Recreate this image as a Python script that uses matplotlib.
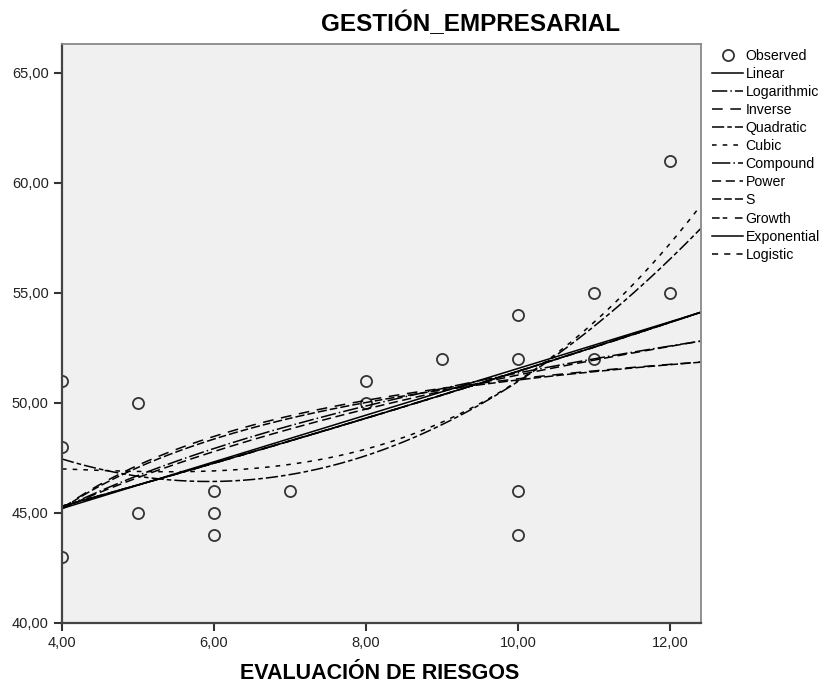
import numpy as np
import matplotlib
matplotlib.use('Agg')
from matplotlib import pyplot as plt
from matplotlib.ticker import FuncFormatter

plt.rcParams['font.family'] = ['Liberation Sans', 'DejaVu Sans']

# observed points (EVALUACION DE RIESGOS, GESTION_EMPRESARIAL)
obs_x = [4, 4, 4, 5, 5, 6, 6, 6, 7, 8, 8, 9, 10, 10, 10, 10, 11, 11, 12, 12]
obs_y = [51, 48, 43, 50, 45, 46, 45, 44, 46, 51, 50, 52, 54, 52, 46, 44, 55, 52, 61, 55]

# fitted model coefficients
lin = [40.96, 1.06]                    # b0 + b1*x
logar = [35.89, 6.717]                 # b0 + b1*ln(x)
inv = [55.02, -39.27]                  # b0 + b1/x
quad = [56.074, -3.2528, 0.2742]       # b0 + b1*x + b2*x^2
cub = [46.316, 0.8284, -0.25, 0.021397]
comp = [41.63, 1.02137]                # b0 * b1^x
powr = [37.36, 0.1374]                 # b0 * x^b1
s_mod = [4.0136, -0.8102]              # exp(b0 + b1/x)
grow = [3.7287, 0.02114]               # exp(b0 + b1*x)
expo = [41.63, 0.02114]                # b0 * exp(b1*x)
logi = [0.02402, 0.97908]              # 1/(b0 * b1^x)

xx = np.linspace(4, 12.4, 300)
curvas = [
    ('Linear', lin[0] + lin[1]*xx, '-'),
    ('Logarithmic', logar[0] + logar[1]*np.log(xx), (0, (10, 2, 1, 2))),
    ('Inverse', inv[0] + inv[1]/xx, (0, (7, 5))),
    ('Quadratic', quad[0] + quad[1]*xx + quad[2]*xx**2, (0, (8, 2, 3, 2))),
    ('Cubic', cub[0] + cub[1]*xx + cub[2]*xx**2 + cub[3]*xx**3, (0, (3, 4))),
    ('Compound', comp[0]*comp[1]**xx, (0, (12, 2, 1, 2))),
    ('Power', powr[0]*xx**powr[1], (0, (6, 3))),
    ('S', np.exp(s_mod[0] + s_mod[1]/xx), (0, (6, 2, 5, 2))),
    ('Growth', np.exp(grow[0] + grow[1]*xx), (0, (5, 2, 3, 5))),
    ('Exponential', expo[0]*np.exp(expo[1]*xx), '-'),
    ('Logistic', 1/(logi[0]*logi[1]**xx), (0, (4, 4))),
]

fig = plt.figure(figsize=(8.3, 6.84), dpi=100)
ax = fig.add_axes([0.0747, 0.0892, 0.77, 0.8465])
ax.set_facecolor('#f0f0f0')

ax.plot(obs_x, obs_y, linestyle='', marker='o', markersize=8, markerfacecolor='none',
        markeredgecolor='#333333', markeredgewidth=1.3, label='Observed')
for nombre, yy, estilo in curvas:
    ax.plot(xx, yy, color='black', linewidth=1.1, linestyle=estilo, label=nombre)

ax.set_xlim(4, 12.41)
ax.set_ylim(40, 66.3)
ax.set_xticks([4, 6, 8, 10, 12])
ax.set_yticks([40, 45, 50, 55, 60, 65])
fmt = FuncFormatter(lambda v, p: ('%.2f' % v).replace('.', ','))
ax.xaxis.set_major_formatter(fmt)
ax.yaxis.set_major_formatter(fmt)
ax.tick_params(direction='out', length=6, width=1.5, colors='#333333', labelsize=10.5, labelcolor='#222222')

for lado in ['left', 'bottom']:
    ax.spines[lado].set_linewidth(1.6)
    ax.spines[lado].set_color('#444444')
for lado in ['top', 'right']:
    ax.spines[lado].set_linewidth(1.3)
    ax.spines[lado].set_color('#888888')

fig.text(0.567, 0.965, 'GESTIÓN_EMPRESARIAL', ha='center', va='center',
         fontsize=17.5, fontweight='bold')
fig.text(0.457, 0.016, 'EVALUACIÓN DE RIESGOS', ha='center', va='center',
         fontsize=15.5, fontweight='bold')

fig.legend(loc='upper left', bbox_to_anchor=(0.858, 0.929), frameon=False,
           handlelength=2.2, handletextpad=0.15, labelspacing=0.29,
           borderaxespad=0, borderpad=0, prop={'size': 10.2})

fig.savefig('out.png', dpi=100)
